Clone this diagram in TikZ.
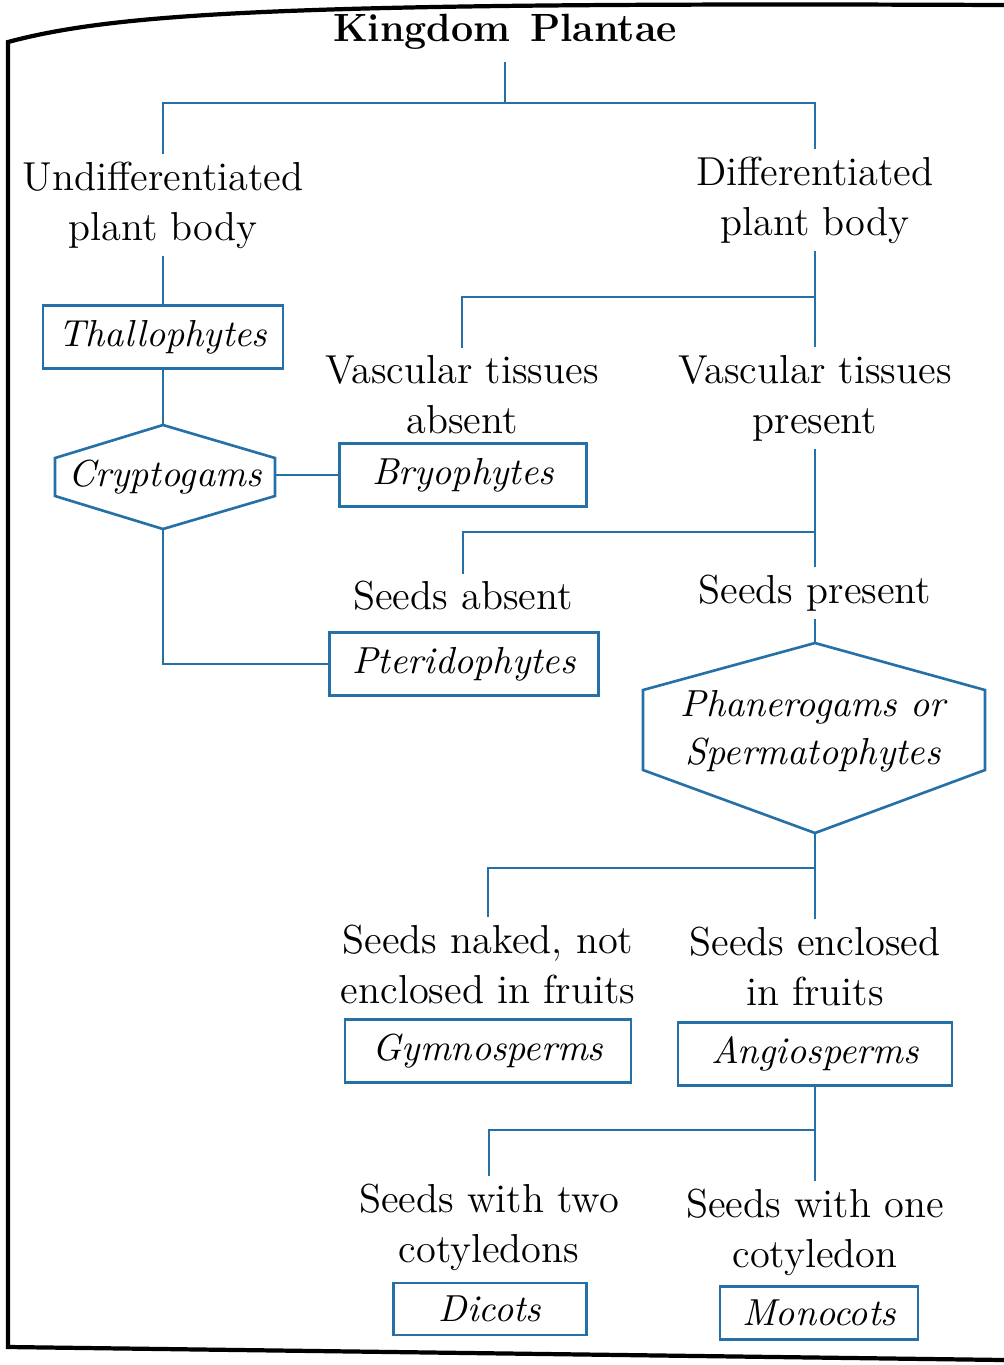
\documentclass[tikz,border=0pt]{standalone}
\usepackage{tikz}
\usetikzlibrary{calc}
\definecolor{lineblue}{RGB}{38,112,168}

\begin{document}
\begin{tikzpicture}[x=0.01cm, y=-0.01cm, link/.style={draw=lineblue, line width=0.75pt}, txt/.style={align=center, inner sep=2pt, font=\fontsize{11.5}{14.2}\selectfont}, box/.style={link, align=center, minimum height=0.63cm, inner sep=2pt, font=\fontsize{10.7}{13.6}\selectfont\itshape}, hexa/.style={align=center, inner sep=2pt, font=\fontsize{10.7}{13.6}\selectfont\itshape}, frame/.style={draw=black, line width=1.2pt}]
\useasboundingbox (0,0) rectangle (1004,1365);
% page frame
\draw[frame] (1004,5) .. controls (300,2) and (120,12) .. (8,42) -- (8,1347) -- (1004,1360);
% top level
\node[font=\fontsize{11.2}{14}\selectfont\bfseries] (kp) at (505,32) {Kingdom\enspace Plantae};
\coordinate (b1) at (505,103);
\node[txt] (undiff) at (163,205) {Undifferentiated\\plant body};
\node[txt] (diff) at (815,200) {Differentiated\\plant body};
\draw[link] (kp) -- (b1);
\draw[link] (b1) -| (undiff);
\draw[link] (b1) -| (diff);
% left side
\node[box, minimum width=2.4cm] (thallo) at (163,337) {Thallophytes};
\node[hexa] (crypto) at (165,477) {Cryptogams};
\draw[link] (163,425) coordinate (cr-n) -- (275,458) -- (275,496) -- (163,529) coordinate (cr-s) -- (55,496) -- (55,458) -- cycle;
\coordinate (cr-e) at (275,475);
\draw[link] (undiff) -- (thallo);
\draw[link] (thallo) -- (cr-n);
% vascular tissues
\coordinate (b2) at (815,297);
\node[txt] (vabs) at (462,395) {Vascular tissues\\absent};
\node[txt] (vpres) at (815,398) {Vascular tissues\\present};
\draw[link] (diff) -- (vpres);
\draw[link] (b2) -| (vabs);
\node[box, minimum width=2.47cm] (bryo) at (463,475) {Bryophytes};
\draw[link] (cr-e) -- (bryo);
% seeds
\coordinate (b3) at (815,532);
\node[txt] (sabs) at (463,596) {Seeds absent};
\node[txt] (spres) at (815,593) {Seeds present};
\draw[link] (vpres) -- (spres);
\draw[link] (b3) -| (sabs);
\node[box, minimum width=2.69cm] (pterido) at (464,664) {Pteridophytes};
\draw[link] (cr-s) |- (pterido);
% phanerogams
\node[hexa] (phanero) at (813,731) {Phanerogams or\\Spermatophytes};
\draw[link] (815,643) coordinate (ph-n) -- (985,690) -- (985,770) -- (815,833) coordinate (ph-s) -- (643,770) -- (643,690) -- cycle;
\draw[link] (spres) -- (ph-n);
% seeds naked or enclosed
\coordinate (b4) at (815,868);
\node[txt] (snaked) at (488,964) {Seeds naked, not\\enclosed in fruits};
\node[txt] (senc) at (815,966) {Seeds enclosed\\in fruits};
\draw[link] (ph-s) -- (senc);
\draw[link] (b4) -| (snaked);
\node[box, minimum width=2.86cm] (gymno) at (488,1051) {Gymnosperms};
\node[box, minimum width=2.74cm] (angio) at (815,1054) {Angiosperms};
% cotyledons
\coordinate (b5) at (815,1130);
\node[txt] (stwo) at (489,1227) {Seeds with two\\cotyledons};
\node[txt] (sone) at (815,1232) {Seeds with one\\cotyledon};
\draw[link] (angio) -- (sone);
\draw[link] (b5) -| (stwo);
\node[box, minimum width=1.93cm, minimum height=0.52cm] (dicot) at (490,1309) {Dicots};
\node[box, minimum width=1.98cm, minimum height=0.53cm] (monocot) at (819,1313) {Monocots};
\end{tikzpicture}
\end{document}
